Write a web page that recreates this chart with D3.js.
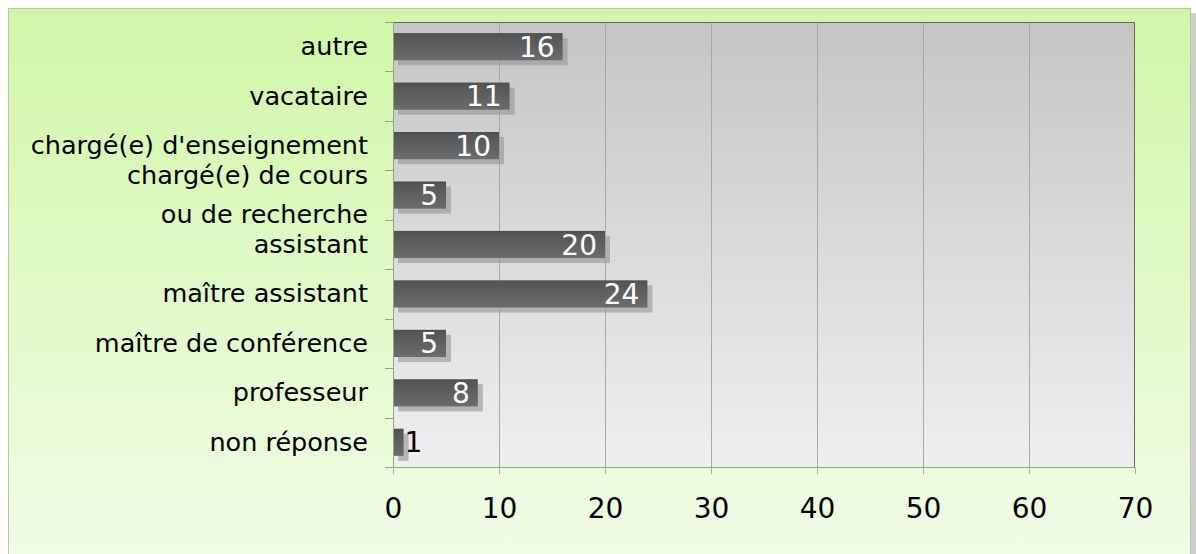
<!DOCTYPE html>
<html>
<head>
<meta charset="utf-8">
<script src="https://cdn.jsdelivr.net/npm/d3@7"></script>
<style>
	html, body { margin: 0; padding: 0; background: #fff; }
	svg { display: block; font-family: "DejaVu Sans", "Noto Sans", sans-serif; }
</style>
</head>
<body>
<svg id="svg" width="1196" height="554"></svg>
<script>
// data
const categories = [
	"autre",
	"vacataire",
	"chargé(e) d'enseignement",
	"chargé(e) de cours\nou de recherche",
	"assistant",
	"maître assistant",
	"maître de conférence",
	"professeur",
	"non réponse"
];
const values = [16, 11, 10, 5, 20, 24, 5, 8, 1];
const xTicks = [0, 10, 20, 30, 40, 50, 60, 70];

const svg = d3.select('#svg');
const margin = { top: 22, left: 393, right: 61, bottom: 87 };
const width = 1196 - margin.left - margin.right;   // 742
const height = 554 - margin.top - margin.bottom;   // 445

const defs = svg.append('defs');

function vGradient(id, stops) {
	const g = defs.append('linearGradient')
		.attr('id', id)
		.attr('x1', 0).attr('y1', 0).attr('x2', 0).attr('y2', 1);
	stops.forEach(s => g.append('stop').attr('offset', s[0]).attr('stop-color', s[1]));
}
vGradient('frameGrad', [[0, '#d0f7a6'], [1, '#f1fce8']]);
vGradient('plotGrad', [[0, '#c5c5c5'], [1, '#efefef']]);
vGradient('barGrad', [[0, '#4c4c4c'], [0.08, '#555555'], [1, '#6c6c6c']]);

// outer frame + its shadow
svg.append('rect')
	.attr('x', 13).attr('y', 13)
	.attr('width', 1183).attr('height', 560)
	.attr('fill', '#cfcfcf');
svg.append('rect')
	.attr('x', 8.5).attr('y', 8.5)
	.attr('width', 1182).attr('height', 560)
	.attr('fill', 'url(#frameGrad)')
	.attr('stroke', '#c6bfa6');

const chart = svg.append('g')
	.attr('transform', `translate(${margin.left}, ${margin.top})`);

// scales
const x = d3.scaleLinear()
	.domain([0, 70])
	.range([0, width]);
const y = d3.scaleBand()
	.domain(categories)
	.range([0, height])
	.paddingInner(0.45)
	.paddingOuter(0.225);
const band = y.step();

// plot background
chart.append('rect')
	.attr('width', width).attr('height', height)
	.attr('fill', 'url(#plotGrad)');

// vertical grid lines
chart.append('g')
	.selectAll('line')
	.data(xTicks.filter(d => d > 0 && d < 70))
	.enter().append('line')
	.attr('x1', d => Math.round(x(d)) + 0.5)
	.attr('x2', d => Math.round(x(d)) + 0.5)
	.attr('y1', 0).attr('y2', height)
	.attr('stroke', '#a8a8a8');

// top and right border of plot
chart.append('path')
	.attr('d', `M0,0.5H${width - 0.5}V${height}`)
	.attr('fill', 'none')
	.attr('stroke', '#5d6b55');

// shadows then bars
chart.append('g')
	.selectAll('rect')
	.data(values)
	.enter().append('rect')
	.attr('x', 5)
	.attr('y', (d, i) => y(categories[i]) + 5)
	.attr('width', d => x(d))
	.attr('height', y.bandwidth())
	.attr('fill', '#9a9a9a')
	.attr('opacity', 0.65);

chart.append('g')
	.selectAll('rect')
	.data(values)
	.enter().append('rect')
	.attr('x', 0)
	.attr('y', (d, i) => y(categories[i]))
	.attr('width', d => x(d))
	.attr('height', y.bandwidth())
	.attr('fill', 'url(#barGrad)');

// value labels (inside the bar, outside when it is too short)
chart.append('g')
	.selectAll('text')
	.data(values)
	.enter().append('text')
	.attr('x', d => d < 3 ? x(d) + 1 : x(d) - 8)
	.attr('y', (d, i) => y(categories[i]) + y.bandwidth() / 2)
	.attr('dy', '0.36em')
	.attr('text-anchor', d => d < 3 ? 'start' : 'end')
	.attr('font-size', 28)
	.attr('fill', d => d < 3 ? '#000' : '#fff')
	.text(d => d);

// y axis: line + ticks at category boundaries
const yAxis = chart.append('g').attr('stroke', '#8fa585');
yAxis.append('line')
	.attr('x1', 0.5).attr('x2', 0.5)
	.attr('y1', 0).attr('y2', height);
yAxis.selectAll('.tick')
	.data(d3.range(categories.length + 1))
	.enter().append('line')
	.attr('x1', -8).attr('x2', 0)
	.attr('y1', i => Math.round(i * band) + 0.5)
	.attr('y2', i => Math.round(i * band) + 0.5);

// category labels
chart.append('g')
	.selectAll('text')
	.data(categories)
	.enter().append('text')
	.attr('x', -25)
	.attr('y', d => y(d) + y.bandwidth() / 2)
	.attr('text-anchor', 'end')
	.attr('font-size', 25.5)
	.attr('fill', '#000')
	.each(function (d) {
		const lines = d.split('\n');
		const t = d3.select(this);
		lines.forEach((l, k) => {
			t.append('tspan')
				.attr('x', -25)
				.attr('dy', k === 0 ? (0.33 - (lines.length - 1) * 0.75) + 'em' : '1.5em')
				.text(l);
		});
	});

// x axis
const xAxis = d3.axisBottom(x)
	.tickValues(xTicks)
	.tickSize(7)
	.tickPadding(24)
	.tickFormat(d3.format('d'));

const gx = chart.append('g')
	.attr('transform', `translate(0, ${height})`)
	.call(xAxis);
gx.select('.domain')
	.attr('stroke', '#8fa585')
	.attr('d', `M-8,0.5H${width}`);
gx.selectAll('.tick line').attr('stroke', '#a8b0a0');
gx.selectAll('.tick text')
	.attr('font-size', 28)
	.attr('font-family', '"DejaVu Sans", sans-serif')
	.attr('fill', '#000');
</script>
</body>
</html>
